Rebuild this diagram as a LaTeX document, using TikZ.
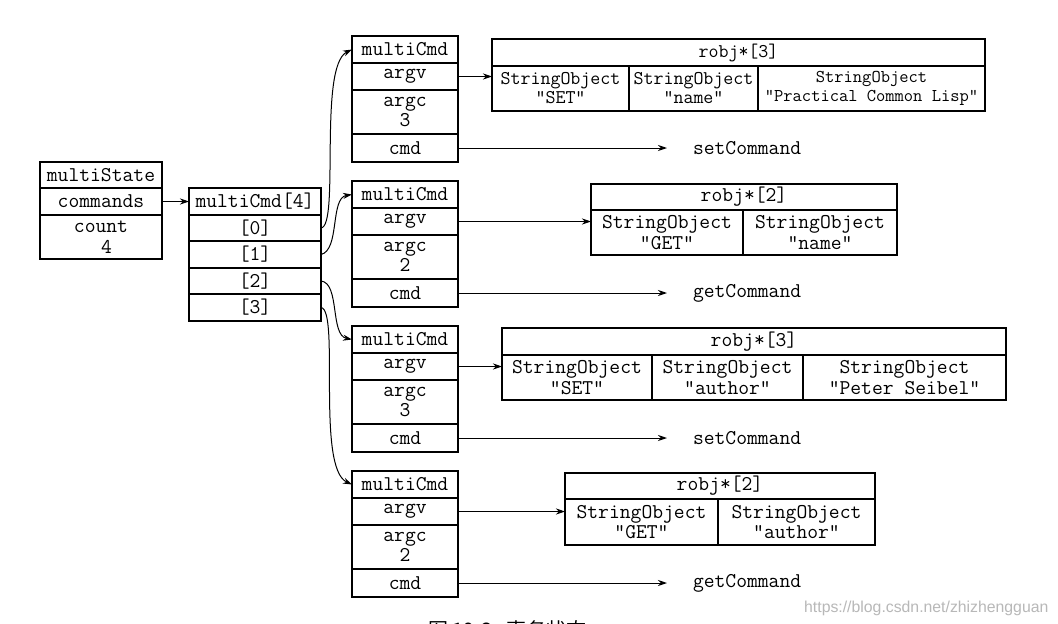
\documentclass[tikz,border=0pt]{standalone}
\usepackage{fontspec}
\setsansfont{Liberation Sans}
\newfontfamily\cjk{Noto Sans CJK SC}
\usetikzlibrary{arrows.meta}
\tikzset{
  cellbox/.style={draw, line width=1.4pt, inner sep=0pt, outer sep=0pt, anchor=north west,
    font=\fontsize{21}{20.5}\selectfont\ttfamily, align=center},
  smallf/.style={font=\fontsize{19.4}{19}\selectfont\ttfamily},
  tinyf/.style={font=\fontsize{18}{19}\selectfont\ttfamily},
  arr/.style={line width=1pt, -{Stealth[length=9pt,width=6pt]}},
  lbl/.style={font=\fontsize{21}{20}\selectfont\ttfamily, anchor=west, inner xsep=26pt, inner ysep=0pt, outer sep=0pt},
}
\newcommand\mkcell[7][]{\node[cellbox,#1,minimum width=#5pt,minimum height=#6pt] (#2) at (#3,#4) {#7};}
\newcommand\mkblock[3]{%
  \mkcell{#1h}{352}{#2}{106}{27}{multiCmd}
  \mkcell{#1v}{352}{#2+27}{106}{27}{argv}
  \mkcell{#1c}{352}{#2+54}{106}{44}{argc\\#3}
  \mkcell{#1d}{352}{#2+98}{106}{28}{cmd}
}
\begin{document}
\begin{tikzpicture}[x=1pt,y=-1pt]
\useasboundingbox (0,0) rectangle (1058,624);
\fill[white] (0,0) rectangle (1058,624);
\begin{scope}
\clip (0,0) rectangle (1058,624);

% multiState
\mkcell{ms1}{40}{162}{122}{26}{multiState}
\mkcell{ms2}{40}{188}{122}{27}{commands}
\mkcell{ms3}{40}{215}{122}{44}{count\\\hspace*{11pt}4}

% multiCmd[4]
\mkcell{mc0}{189}{188}{132}{27}{multiCmd[4]}
\mkcell{mc1}{189}{215}{132}{26}{[0]}
\mkcell{mc2}{189}{241}{132}{27}{[1]}
\mkcell{mc3}{189}{268}{132}{26}{[2]}
\mkcell{mc4}{189}{294}{132}{27}{[3]}

\draw[arr] (ms2.east) -- (mc0.west);

% multiCmd blocks
\mkblock{b1}{36}{3}
\mkblock{b2}{181}{2}
\mkblock{b3}{326}{3}
\mkblock{b4}{471}{2}

% curved connectors
\draw[arr] (mc1.east) .. controls (340,226) and (318,66) .. (b1h.west);
\draw[arr] (mc2.east) .. controls (340,250) and (330,198) .. (b2h.west);
\draw[arr] (mc3.east) .. controls (340,283) and (330,335) .. (b3h.west);
\draw[arr] (mc4.east) .. controls (340,310) and (316,468) .. (b4h.west);

% robj boxes
\mkcell[smallf]{r1t}{492}{39}{493}{27}{robj*[3]}
\mkcell[smallf]{r1a}{492}{66}{137}{45}{StringObject\\"SET"}
\mkcell[smallf]{r1b}{629}{66}{129}{45}{StringObject\\"name"}
\mkcell[tinyf]{r1c}{758}{66}{227}{45}{StringObject\\"Practical Common Lisp"}

\mkcell{r2t}{591}{184}{306}{26}{robj*[2]}
\mkcell{r2a}{591}{210}{152}{45}{StringObject\\"GET"}
\mkcell{r2b}{743}{210}{154}{45}{StringObject\\"name"}

\mkcell{r3t}{502}{328}{504}{27}{robj*[3]}
\mkcell{r3a}{502}{355}{150}{45}{StringObject\\"SET"}
\mkcell{r3b}{652}{355}{151}{45}{StringObject\\"author"}
\mkcell{r3c}{803}{355}{203}{45}{StringObject\\"Peter Seibel"}

\mkcell{r4t}{565}{473}{310}{26}{robj*[2]}
\mkcell{r4a}{565}{499}{153}{46}{StringObject\\"GET"}
\mkcell{r4b}{718}{499}{157}{46}{StringObject\\"author"}

% argv arrows
\draw[arr] (b1v.east) -- (b1v.east -| r1a.west);
\draw[arr] (b2v.east) -- (b2v.east -| r2a.west);
\draw[arr] (b3v.east) -- (b3v.east -| r3a.west);
\draw[arr] (b4v.east) -- (b4v.east -| r4a.west);

% command labels
\node[lbl] (t1) at (667,148) {setCommand};
\node[lbl] (t2) at (667,293) {getCommand};
\node[lbl] (t3) at (667,438) {setCommand};
\node[lbl] (t4) at (667,583) {getCommand};
\draw[arr] (b1d.east) -- (t1.west);
\draw[arr] (b2d.east) -- (t2.west);
\draw[arr] (b3d.east) -- (t3.west);
\draw[arr] (b4d.east) -- (t4.west);

% caption (clipped at the lower edge, as in the reference) and watermark
\node[anchor=base west, inner sep=0pt, font=\cjk\fontsize{20}{20}\selectfont] (cap) at (428,637) {图 19-3\hspace{14pt}事务状态};
\node[anchor=base west, inner sep=0pt, text=black!28, font=\sffamily\fontsize{15.8}{16}\selectfont] (wm) at (804,612) {https://blog.csdn.net/zhizhengguan};
\end{scope}
\end{tikzpicture}
\end{document}
